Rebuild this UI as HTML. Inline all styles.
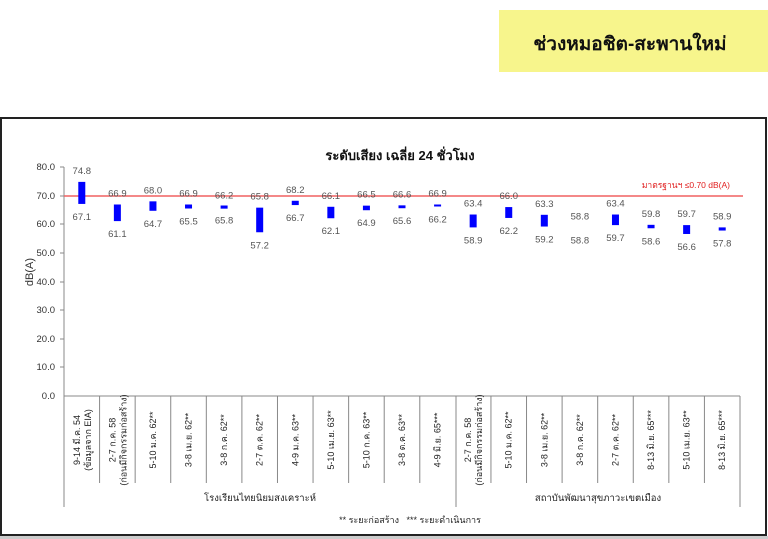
<!DOCTYPE html>
<html><head><meta charset="utf-8"><style>
body{margin:0;width:768px;height:539px;background:#fff;overflow:hidden;font-family:"Liberation Sans","Noto Sans CJK SC",sans-serif;}
</style></head><body>
<svg width="768" height="539" xmlns="http://www.w3.org/2000/svg" style="position:absolute;left:0;top:0;font-family:'Liberation Sans','Noto Sans CJK SC',sans-serif">
<rect x="0" y="0" width="768" height="539" fill="#fff"/>
<rect x="499" y="10" width="269" height="62" fill="#f7f58c"/>
<text x="630" y="50" font-size="19" font-weight="bold" text-anchor="middle" fill="#111">ช่วงหมอชิต-สะพานใหม่</text>
<rect x="1" y="118" width="765" height="417" fill="#fff" stroke="#222" stroke-width="2"/>
<rect x="0" y="536" width="768" height="3" fill="#ccc"/>
<text x="400" y="160" font-size="13" font-weight="bold" text-anchor="middle" fill="#111">ระดับเสียง เฉลี่ย 24 ชั่วโมง</text>
<text transform="translate(33,272) rotate(-90)" font-size="11" text-anchor="middle" fill="#333">dB(A)</text>
<g font-size="9.5" fill="#333" text-anchor="end">
<text x="55" y="170">80.0</text><text x="55" y="199">70.0</text><text x="55" y="227">60.0</text><text x="55" y="256">50.0</text><text x="55" y="285">40.0</text><text x="55" y="313">30.0</text><text x="55" y="342">20.0</text><text x="55" y="370">10.0</text><text x="55" y="399">0.0</text>
</g>
<g stroke="#888" stroke-width="1">
<line x1="64" y1="167" x2="64" y2="507"/>
<line x1="60" y1="167" x2="64" y2="167"/><line x1="60" y1="196" x2="64" y2="196"/><line x1="60" y1="224" x2="64" y2="224"/><line x1="60" y1="253" x2="64" y2="253"/><line x1="60" y1="282" x2="64" y2="282"/><line x1="60" y1="310" x2="64" y2="310"/><line x1="60" y1="339" x2="64" y2="339"/><line x1="60" y1="367" x2="64" y2="367"/>
<line x1="64" y1="396" x2="740" y2="396"/>
<line x1="456" y1="396" x2="456" y2="507"/><line x1="740" y1="396" x2="740" y2="507"/>
</g>
<line x1="64" y1="196" x2="743" y2="196" stroke="#f06060" stroke-width="1.5"/>
<text x="730" y="188" font-size="8.5" fill="#e02020" text-anchor="end">มาตรฐานฯ ≤0.70 dB(A)</text>
<g id="cols"></g>
<text x="260" y="501" font-size="9.5" fill="#222" text-anchor="middle">โรงเรียนไทยนิยมสงเคราะห์</text>
<text x="598" y="501" font-size="9.5" fill="#222" text-anchor="middle">สถาบันพัฒนาสุขภาวะเขตเมือง</text>
<text x="410" y="523" font-size="9" fill="#222" text-anchor="middle">** ระยะก่อสร้าง &#160;&#160;*** ระยะดำเนินการ</text>
</svg>
<script>
var d=[[74.8,67.1,"9-14 มี.ค. 54","(ข้อมูลจาก EIA)"],[66.9,61.1,"2-7 ก.ค. 58","(ก่อนมีกิจกรรมก่อสร้าง)"],[68.0,64.7,"5-10 ม.ค. 62**"],[66.9,65.5,"3-8 เม.ย. 62**"],[66.2,65.8,"3-8 ก.ค. 62**"],[65.8,57.2,"2-7 ต.ค. 62**"],[68.2,66.7,"4-9 ม.ค. 63**"],[66.1,62.1,"5-10 เม.ย. 63**"],[66.5,64.9,"5-10 ก.ค. 63**"],[66.6,65.6,"3-8 ต.ค. 63**"],[66.9,66.2,"4-9 มิ.ย. 65***"],[63.4,58.9,"2-7 ก.ค. 58","(ก่อนมีกิจกรรมก่อสร้าง)"],[66.0,62.2,"5-10 ม.ค. 62**"],[63.3,59.2,"3-8 เม.ย. 62**"],[58.8,58.8,"3-8 ก.ค. 62**"],[63.4,59.7,"2-7 ต.ค. 62**"],[59.8,58.6,"8-13 มิ.ย. 65***"],[59.7,56.6,"5-10 เม.ย. 63**"],[58.9,57.8,"8-13 มิ.ย. 65***"]];
var s="";
function Y(v){return 396-v*2.8625;}
var w=(740-64)/19;
d.forEach(function(r,i){
var cx=64+w*(i+0.5),t=Y(r[0]),b=Y(r[1]);
if(b-t>0.5){if(b-t<2){t-=1;b+=1;}
s+='<rect x="'+(cx-3.5)+'" y="'+t+'" width="7" height="'+(b-t)+'" fill="#0000ff"/>';}
s+='<text x="'+cx+'" y="'+(Y(r[0])-8)+'" font-size="9.5" fill="#555" text-anchor="middle">'+r[0].toFixed(1)+'</text>';
s+='<text x="'+cx+'" y="'+(Y(r[1])+16)+'" font-size="9.5" fill="#555" text-anchor="middle">'+r[1].toFixed(1)+'</text>';
if(i>0&&i!=11)s+='<line x1="'+(64+w*i)+'" y1="396" x2="'+(64+w*i)+'" y2="483" stroke="#888"/>';
if(r[3]){s+='<text transform="translate('+(cx-2)+',440) rotate(-90)" font-size="9" fill="#222" text-anchor="middle">'+r[2]+'</text>';
s+='<text transform="translate('+(cx+9)+',440) rotate(-90)" font-size="9" fill="#222" text-anchor="middle">'+r[3]+'</text>';}
else s+='<text transform="translate('+(cx+3)+',440) rotate(-90)" font-size="9" fill="#222" text-anchor="middle">'+r[2]+'</text>';
});
document.getElementById("cols").innerHTML=s;
</script>
</body></html>
